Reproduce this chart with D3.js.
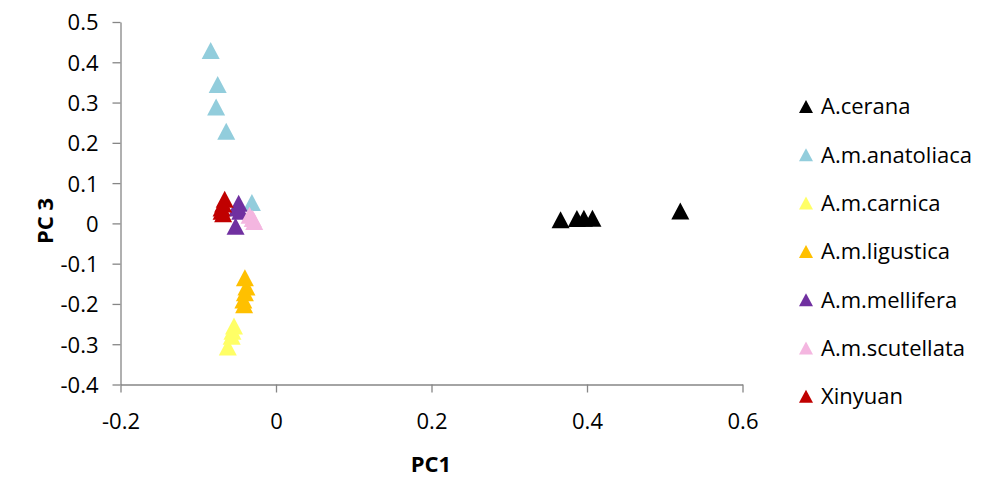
<!DOCTYPE html>
<html>
<head>
<meta charset="utf-8">
<script src="https://cdn.jsdelivr.net/npm/d3@7/dist/d3.min.js"></script>
<style>
  body { margin: 0; background: #fff; }
  svg text { font-family: "Open Sans", Lato, sans-serif; fill: #000; }
</style>
</head>
<body>
<script>
// series names + colours (legend order)
var seriesNames = ["A.cerana", "A.m.anatoliaca", "A.m.carnica", "A.m.ligustica", "A.m.mellifera", "A.m.scutellata", "Xinyuan"];
var seriesColors = ["#000000", "#92cddc", "#ffff66", "#ffc000", "#7030a0", "#f4b6e0", "#c00000"];

// PC1 / PC3 values
var cerana = [[0.366, 0.009], [0.387, 0.012], [0.396, 0.013], [0.407, 0.013], [0.520, 0.031]];
var anatoliaca = [[-0.084, 0.429], [-0.075, 0.345], [-0.077, 0.289], [-0.064, 0.229], [-0.031, 0.052]];
var carnica = [[-0.054, -0.255], [-0.056, -0.268], [-0.057, -0.280], [-0.062, -0.307]];
var ligustica = [[-0.040, -0.135], [-0.038, -0.158], [-0.040, -0.172], [-0.042, -0.190], [-0.041, -0.202]];
var mellifera = [[-0.048, 0.050], [-0.050, 0.038], [-0.046, 0.030], [-0.052, -0.007]];
var scutellata = [[-0.034, 0.020], [-0.030, 0.012], [-0.028, 0.005]];
var xinyuan = [[-0.066, 0.060], [-0.068, 0.048], [-0.070, 0.038], [-0.070, 0.030], [-0.068, 0.024]];

var xTicks = [-0.2, 0, 0.2, 0.4, 0.6];
var yTicks = [0.5, 0.4, 0.3, 0.2, 0.1, 0, -0.1, -0.2, -0.3, -0.4];

var allSeries = [cerana, anatoliaca, carnica, ligustica, mellifera, scutellata, xinyuan];

var width = 988, height = 478;
var svg = d3.select("body").append("svg")
  .attr("width", width)
  .attr("height", height);

var x = d3.scaleLinear().domain([-0.2, 0.6]).range([120.5, 742.5]);
var y = d3.scaleLinear().domain([-0.4, 0.5]).range([384.5, 22]);

// triangle centred on its bounding box
function tri(cx, cy, w, h){
  return "M" + (cx - w/2) + "," + (cy + h/2) +
         "L" + cx + "," + (cy - h/2) +
         "L" + (cx + w/2) + "," + (cy + h/2) + "Z";
}

// plain hyphen for negatives, like the original
var fmt = function(d){ return String(+d.toFixed(1)); };
var axisColor = "#868686";
var fontSize = 22;

// x axis
var xAxis = svg.append("g")
  .attr("transform", "translate(0," + y(-0.4) + ")")
  .call(d3.axisBottom(x).tickValues(xTicks).tickSize(8).tickSizeOuter(0).tickFormat(fmt));
xAxis.select(".domain").attr("stroke", axisColor).attr("stroke-width", 1.3);
xAxis.selectAll(".tick line").attr("stroke", axisColor).attr("stroke-width", 1.3);
xAxis.selectAll(".tick text").attr("font-size", fontSize).attr("dy", 0).attr("y", 44);

// y axis
var yAxis = svg.append("g")
  .attr("transform", "translate(" + x(-0.2) + ",0)")
  .call(d3.axisLeft(y).tickValues(yTicks).tickSize(8).tickSizeOuter(0).tickFormat(fmt));
yAxis.select(".domain").attr("stroke", axisColor).attr("stroke-width", 1.3);
yAxis.selectAll(".tick line").attr("stroke", axisColor).attr("stroke-width", 1.3);
yAxis.selectAll(".tick text").attr("font-size", fontSize).attr("x", -22).attr("dy", "0.36em");

// axis titles
svg.append("text")
  .attr("x", 431).attr("y", 472)
  .attr("text-anchor", "middle")
  .attr("font-size", 22).attr("font-weight", "bold")
  .text("PC1");
svg.append("text")
  .attr("transform", "translate(53,221) rotate(-90)")
  .attr("text-anchor", "middle")
  .attr("font-size", 22).attr("font-weight", "bold")
  .text("PC 3");

// points
allSeries.forEach(function(data, i){
  svg.append("g").selectAll("path")
    .data(data)
    .enter()
    .append("path")
    .attr("d", function(d){ return tri(x(d[0]), y(d[1]), 18, 17); })
    .attr("fill", seriesColors[i]);
});

// legend
var legend = svg.append("g").selectAll("g")
  .data(seriesNames)
  .enter()
  .append("g")
  .attr("transform", function(d, i){ return "translate(0," + (106.5 + i * 48.3) + ")"; });
legend.append("path")
  .attr("d", tri(806, 0, 14, 13))
  .attr("fill", function(d, i){ return seriesColors[i]; });
legend.append("text")
  .attr("x", 821).attr("dy", "0.36em")
  .attr("font-size", fontSize)
  .text(function(d){ return d; });
</script>
</body>
</html>
